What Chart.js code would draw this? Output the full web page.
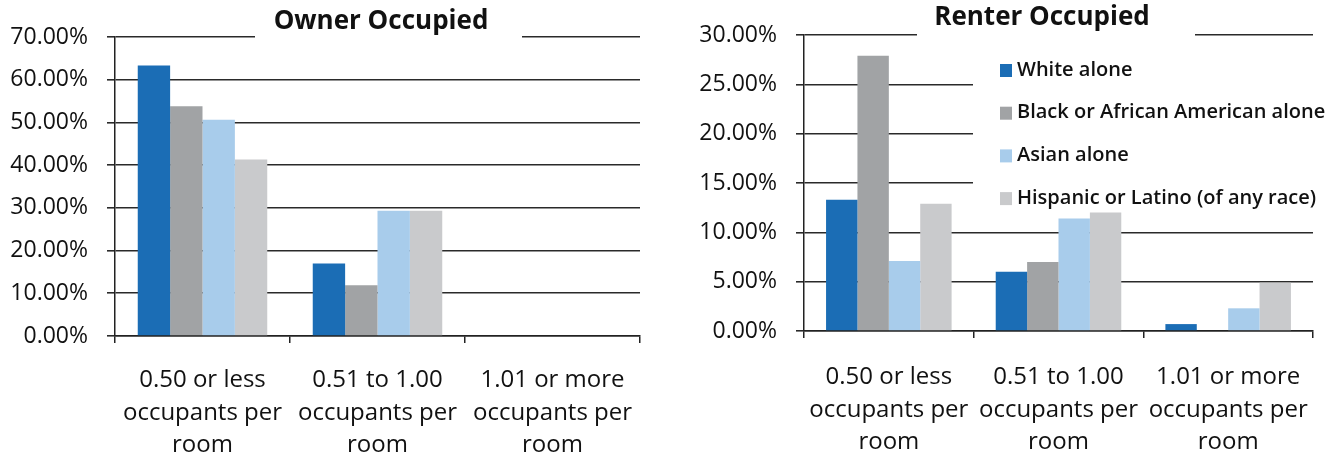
<!DOCTYPE html>
<html>
<head>
<meta charset="utf-8">
<script src="https://cdn.jsdelivr.net/npm/chart.js@4.4.0/dist/chart.umd.min.js"></script>
<style>
  body { margin: 0; background: #fff; }
  #owner { position: absolute; left: 0; top: 0; }
  #renter { position: absolute; left: 665px; top: 0; }
</style>
</head>
<body>
<canvas id="owner" width="665" height="464"></canvas>
<canvas id="renter" width="674" height="464"></canvas>
<script>
// categories (x tick labels, one line per array item)
const categories = [
  ["0.50 or less", "occupants per", "room"],
  ["0.51 to 1.00", "occupants per", "room"],
  ["1.01 or more", "occupants per", "room"],
];
const seriesNames = ["White alone", "Black or African American alone", "Asian alone", "Hispanic or Latino (of any race)"];
const seriesColors = ["#1b6db5", "#a1a3a5", "#a8cceb", "#c9cacc"];

// values in percent
const ownerWhite = [63.3, 17.0, 0];
const ownerBlack = [53.8, 11.9, 0];
const ownerAsian = [50.6, 29.3, 0];
const ownerHispanic = [41.3, 29.3, 0];

const renterWhite = [13.3, 6.0, 0.7];
const renterBlack = [27.9, 7.0, 0];
const renterAsian = [7.1, 11.4, 2.3];
const renterHispanic = [12.9, 12.0, 4.9];

const FONT = "'Open Sans', sans-serif";

// title sitting on a white box that cuts the top gridline
const titleBox = {
  id: "titleBox",
  afterDraw(chart, args, opts) {
    const ctx = chart.ctx;
    ctx.save();
    ctx.fillStyle = "#fff";
    ctx.fillRect(opts.left, 0, opts.right - opts.left, chart.chartArea.top + 3);
    ctx.fillStyle = "#111";
    ctx.font = "bold 26px " + FONT;
    ctx.textAlign = "center";
    ctx.textBaseline = "alphabetic";
    ctx.fillText(opts.text, opts.cx, opts.baseline);
    ctx.restore();
  },
};

// legend drawn inside the plot area, like the Excel one
const boxLegend = {
  id: "boxLegend",
  beforeDatasetsDraw(chart, args, opts) {
    if (!opts.display) return;
    const ctx = chart.ctx;
    ctx.save();
    ctx.fillStyle = "#fff";
    ctx.fillRect(opts.left, opts.top, opts.right - opts.left, opts.bottom - opts.top);
    ctx.font = "600 20px " + FONT;
    ctx.textBaseline = "middle";
    chart.data.datasets.forEach((ds, i) => {
      const y = opts.firstY + opts.rowGap * i;
      ctx.fillStyle = ds.backgroundColor;
      ctx.fillRect(opts.markerX, y - 6, 12, 13);
      ctx.fillStyle = "#111";
      ctx.fillText(ds.label, opts.markerX + 17, y);
    });
    ctx.restore();
  },
};

const makeChart = (id, values, yMax, yStep, yWidth, xHeight, xPad, padRight, padTop, title, legend) => {
  return new Chart(document.getElementById(id), {
    type: "bar",
    plugins: [titleBox, boxLegend],
    data: {
      labels: categories,
      datasets: values.map((v, i) => ({
        label: seriesNames[i],
        data: v,
        backgroundColor: seriesColors[i],
        categoryPercentage: 0.74,
        barPercentage: 1,
      })),
    },
    options: {
      responsive: false,
      animation: false,
      devicePixelRatio: 1,
      layout: { padding: { left: 0, right: padRight, top: padTop, bottom: 0 } },
      plugins: {
        legend: { display: false },
        tooltip: { enabled: false },
        titleBox: title,
        boxLegend: legend,
      },
      scales: {
        x: {
          grid: { drawOnChartArea: false, drawTicks: true, tickLength: 7, color: "#222", lineWidth: 1.5 },
          border: { color: "#222", width: 1.5 },
          ticks: {
            color: "#111",
            font: { family: FONT, size: 24, lineHeight: 1.36 },
            padding: xPad,
            maxRotation: 0,
            autoSkip: false,
          },
          afterFit: (scale) => { scale.height = xHeight; },
        },
        y: {
          min: 0,
          max: yMax,
          grid: { color: "#2a2a2a", lineWidth: 1.6, tickLength: 8 },
          border: { color: "#222", width: 1.5 },
          ticks: {
            stepSize: yStep,
            color: "#111",
            font: { family: FONT, size: 23 },
            padding: 19,
            callback: (v) => v.toFixed(2) + "%",
          },
          afterFit: (scale) => { scale.width = yWidth; },
        },
      },
    },
  });
};

makeChart("owner", [ownerWhite, ownerBlack, ownerAsian, ownerHispanic], 70, 10, 115, 128, 21, 25, 37,
  { text: "Owner Occupied", left: 255, right: 522, cx: 381, baseline: 29 },
  { display: false });

makeChart("renter", [renterWhite, renterBlack, renterAsian, renterHispanic], 30, 5, 139, 133, 23, 26, 35,
  { text: "Renter Occupied", left: 252, right: 530, cx: 377, baseline: 25 },
  { display: true, left: 308, right: 674, top: 48, bottom: 212, markerX: 335, firstY: 70, rowGap: 42.7 });
</script>
</body>
</html>
